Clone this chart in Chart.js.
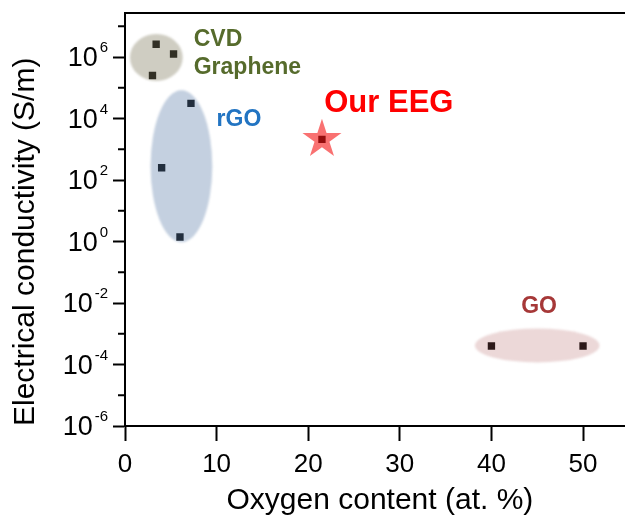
<!DOCTYPE html>
<html>
<head>
<meta charset="utf-8">
<script src="https://cdn.jsdelivr.net/npm/chart.js@4.4.1/dist/chart.umd.min.js"></script>
<style>
  html, body { margin: 0; padding: 0; overflow: hidden; background: #fff; }
  #wrap { width: 640px; height: 519px; }
</style>
</head>
<body>
<div id="wrap"><canvas id="c" width="640" height="519"></canvas></div>
<script>
// Oxygen content (at. %) and electrical conductivity (S/m) of each material
const cvdX = [3.4, 5.3, 3.0];
const cvdY = [2.6e6, 1.25e6, 2.5e5];
const rgoX = [7.2, 4.0, 6.0];
const rgoY = [3.1e4, 250, 1.4];
const goX = [40, 50];
const goY = [4e-4, 4e-4];
const eegX = [21.5];
const eegY = [2.1e3];

// Axis ticks
const xTicks = [0, 10, 20, 30, 40, 50];
const yExponents = [-6, -5, -4, -3, -2, -1, 0, 1, 2, 3, 4, 5, 6, 7];

const FONT = '"Liberation Sans", Arial, Helvetica, sans-serif';

// Shaded regions around each group (data ranges) and their colours
const regions = [
  { x: [0.54, 6.3], y: [1.66e5, 5.6e6], fill: 'rgba(115,108,75,0.34)' },
  { x: [2.79, 9.53], y: [0.95, 8.3e4], fill: 'rgba(70,110,160,0.32)' },
  { x: [38.2, 51.8], y: [1.17e-4, 1.48e-3], fill: 'rgba(160,60,60,0.2)' }
];

// Group names placed next to each region
const groupLabels = [
  { text: 'CVD', x: 7.5, y: 3.57e6, color: '#566b2c', size: 23, align: 'left' },
  { text: 'Graphene', x: 7.5, y: 4.55e5, color: '#566b2c', size: 23, align: 'left' },
  { text: 'rGO', x: 10.0, y: 8.9e3, color: '#2274c2', size: 23, align: 'left' },
  { text: 'Our EEG', x: 21.75, y: 3.1e4, color: '#ff0000', size: 31, align: 'left' },
  { text: 'GO', x: 45.2, y: 7.85e-3, color: '#a63838', size: 23, align: 'center' }
];

const toPts = (xs, ys) => xs.map((v, i) => ({ x: v, y: ys[i] }));

const overlay = {
  id: 'overlay',
  afterDatasetsDraw(chart) {
    const { ctx, scales: { x, y } } = chart;
    // translucent regions over the markers
    regions.forEach(r => {
      const x0 = x.getPixelForValue(r.x[0]), x1 = x.getPixelForValue(r.x[1]);
      const y0 = y.getPixelForValue(r.y[0]), y1 = y.getPixelForValue(r.y[1]);
      ctx.save();
      ctx.filter = 'blur(1px)';
      ctx.fillStyle = r.fill;
      ctx.beginPath();
      ctx.ellipse((x0 + x1) / 2, (y0 + y1) / 2, Math.abs(x1 - x0) / 2, Math.abs(y1 - y0) / 2, 0, 0, Math.PI * 2);
      ctx.fill();
      ctx.restore();
    });
    // star highlighting our sample
    const cx = x.getPixelForValue(eegX[0]), cy = y.getPixelForValue(eegY[0]);
    const R = 20.5, r = R * 0.382;
    ctx.save();
    ctx.fillStyle = 'rgba(245,10,10,0.58)';
    ctx.beginPath();
    for (let i = 0; i < 10; i++) {
      const a = -Math.PI / 2 + i * Math.PI / 5;
      const rad = i % 2 === 0 ? R : r;
      const px = cx + rad * Math.cos(a), py = cy + rad * Math.sin(a);
      if (i === 0) ctx.moveTo(px, py); else ctx.lineTo(px, py);
    }
    ctx.closePath();
    ctx.fill();
    ctx.restore();
  },
  afterDraw(chart) {
    const { ctx, chartArea, scales: { x, y } } = chart;
    ctx.save();
    // top frame line
    ctx.strokeStyle = '#000';
    ctx.lineWidth = 2;
    ctx.beginPath();
    ctx.moveTo(chartArea.left - 1, chartArea.top);
    ctx.lineTo(chart.width, chartArea.top);
    ctx.stroke();
    // minor ticks at odd decades
    yExponents.filter(e => Math.abs(e) % 2 === 1).forEach(e => {
      const py = y.getPixelForValue(Math.pow(10, e));
      ctx.beginPath();
      ctx.moveTo(chartArea.left - 7, py);
      ctx.lineTo(chartArea.left, py);
      ctx.stroke();
    });
    // decade labels with superscript exponents
    ctx.fillStyle = '#000';
    ctx.textAlign = 'right';
    ctx.textBaseline = 'middle';
    const right = chartArea.left - 17;
    yExponents.filter(e => Math.abs(e) % 2 === 0).forEach(e => {
      const py = y.getPixelForValue(Math.pow(10, e));
      const sup = String(e);
      ctx.font = '15px ' + FONT;
      const ws = ctx.measureText(sup).width;
      ctx.fillText(sup, right, py - 9);
      ctx.font = '27px ' + FONT;
      ctx.fillText('10', right - ws - 2, py + 2);
    });
    // group names
    groupLabels.forEach(l => {
      ctx.font = 'bold ' + l.size + 'px ' + FONT;
      ctx.fillStyle = l.color;
      ctx.textAlign = l.align;
      ctx.fillText(l.text, x.getPixelForValue(l.x), y.getPixelForValue(l.y));
    });
    ctx.restore();
  }
};

const marker = { pointStyle: 'rect', pointRadius: 5.2, pointHoverRadius: 5.2, borderWidth: 0, backgroundColor: '#111' };

new Chart(document.getElementById('c'), {
  type: 'scatter',
  data: {
    datasets: [
      Object.assign({ label: 'CVD Graphene', data: toPts(cvdX, cvdY) }, marker),
      Object.assign({ label: 'rGO', data: toPts(rgoX, rgoY) }, marker),
      Object.assign({ label: 'GO', data: toPts(goX, goY) }, marker),
      Object.assign({ label: 'Our EEG', data: toPts(eegX, eegY) }, marker)
    ]
  },
  options: {
    responsive: false,
    animation: false,
    devicePixelRatio: 1,
    layout: { padding: { top: 13, right: 3, left: 0, bottom: 0 } },
    plugins: { legend: { display: false }, tooltip: { enabled: false } },
    scales: {
      x: {
        type: 'linear',
        min: 0,
        max: 55.65,
        afterBuildTicks(s) { s.ticks = xTicks.map(v => ({ value: v })); },
        afterFit(s) { s.height = 93; },
        grid: { display: true, drawOnChartArea: false, drawTicks: true, tickLength: 15, tickWidth: 2, tickColor: '#000' },
        border: { display: true, color: '#000', width: 2 },
        ticks: { color: '#000', font: { family: FONT, size: 26 }, padding: 8, maxRotation: 0, autoSkip: false },
        title: { display: true, text: 'Oxygen content (at. %)', color: '#000', font: { family: FONT, size: 30 }, padding: { top: 0, bottom: 0 } }
      },
      y: {
        type: 'logarithmic',
        min: 1e-6,
        max: 2.7e7,
        afterBuildTicks(s) { s.ticks = yExponents.map(e => ({ value: Math.pow(10, e) })); },
        afterFit(s) { s.width = 125; },
        grid: {
          display: true, drawOnChartArea: false, drawTicks: true, tickLength: 12, tickWidth: 2,
          tickColor: c => (Math.abs(Math.round(Math.log10(c.tick.value))) % 2 === 0 ? '#000' : 'rgba(0,0,0,0)')
        },
        border: { display: true, color: '#000', width: 2 },
        ticks: { display: false },
        title: { display: true, text: 'Electrical conductivity (S/m)', align: 'start', color: '#000', font: { family: FONT, size: 30 }, padding: { top: 8, bottom: 0 } }
      }
    }
  },
  plugins: [overlay]
});
</script>
</body>
</html>
